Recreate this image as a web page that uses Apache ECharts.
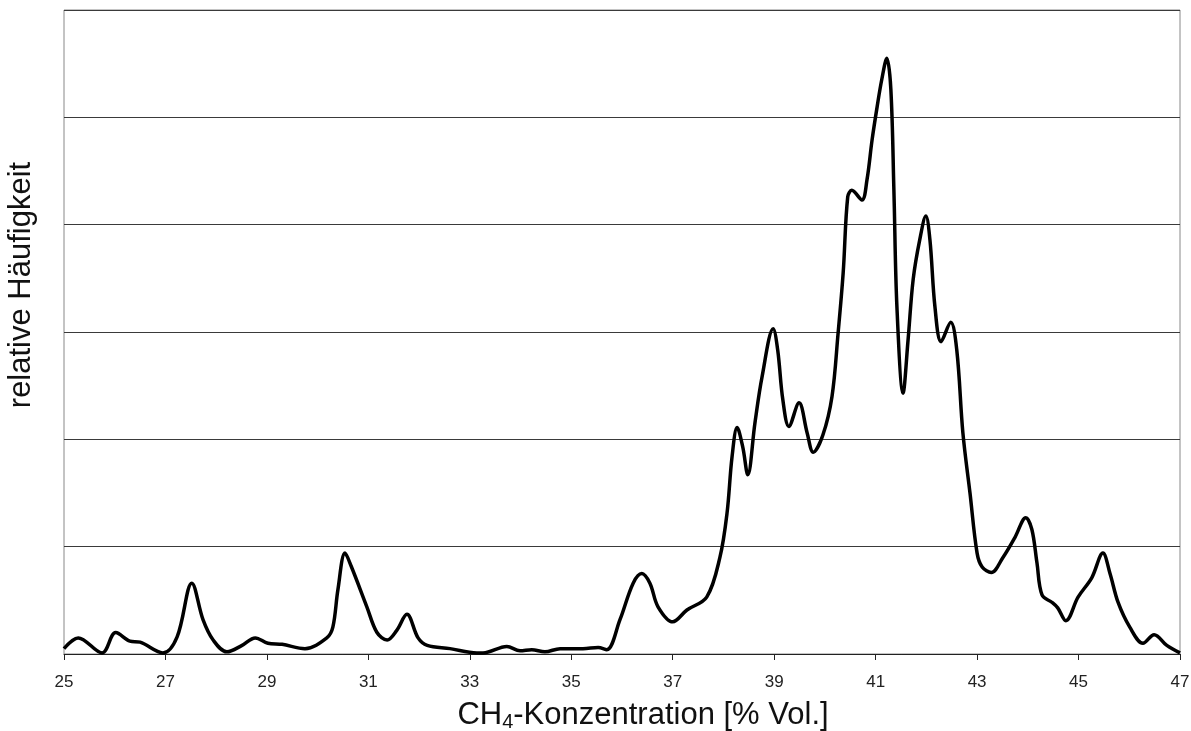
<!DOCTYPE html>
<html><head><meta charset="utf-8">
<script src="https://cdn.jsdelivr.net/npm/echarts@6/dist/echarts.min.js"></script>
<style>html,body{margin:0;padding:0;background:#fff}#c{width:1191px;height:731px}</style>
</head><body><div id="c"></div>
<script>
const concentration = [25.0,25.28,25.75,26.02,26.3,26.5,26.95,27.23,27.52,27.74,27.94,28.21,28.51,28.77,29.02,29.3,29.75,30.18,30.3,30.4,30.54,30.66,30.97,31.17,31.37,31.56,31.76,31.98,32.16,32.61,33.14,33.26,33.73,33.99,34.22,34.48,34.78,35.23,35.53,35.7,35.96,36.22,36.39,36.55,36.71,37.0,37.28,37.67,37.93,38.07,38.17,38.27,38.38,38.48,38.62,38.76,38.98,39.07,39.17,39.29,39.49,39.65,39.77,39.96,40.14,40.26,40.36,40.45,40.53,40.73,40.83,40.93,41.03,41.12,41.22,41.3,41.36,41.42,41.54,41.64,41.74,41.87,41.99,42.07,42.17,42.29,42.48,42.6,42.72,42.86,43.0,43.1,43.28,43.51,43.75,43.96,44.08,44.18,44.28,44.48,44.59,44.75,44.99,45.26,45.48,45.62,45.78,46.01,46.27,46.49,46.74,47.0];
const frequency = [0.05,0.15,0.01,0.2,0.12,0.11,0.01,0.16,0.66,0.32,0.13,0.02,0.08,0.15,0.10,0.09,0.05,0.15,0.25,0.6,0.94,0.82,0.44,0.2,0.13,0.22,0.37,0.15,0.08,0.05,0.01,0.01,0.07,0.03,0.04,0.02,0.05,0.05,0.06,0.04,0.32,0.66,0.75,0.66,0.44,0.30,0.41,0.53,0.90,1.31,1.84,2.11,1.93,1.67,2.15,2.58,3.03,2.83,2.37,2.12,2.34,2.06,1.88,2.04,2.4,2.99,3.55,4.26,4.32,4.23,4.42,4.79,5.1,5.35,5.55,5.26,4.32,3.23,2.43,2.93,3.49,3.86,4.08,3.86,3.23,2.91,3.09,2.83,2.06,1.5,0.94,0.81,0.76,0.9,1.09,1.27,1.16,0.85,0.55,0.48,0.43,0.31,0.53,0.71,0.94,0.75,0.48,0.25,0.1,0.18,0.08,0.01];
const xTitle = ['CH', '4', '-Konzentration [% Vol.]'];
const yTitle = 'relative Häufigkeit';

const chart = echarts.init(document.getElementById('c'), null, {renderer:'canvas'});
chart.setOption({
  animation:false,
  grid:{left:64, right:11, top:10, bottom:77, show:true, borderColor:'#888', borderWidth:1, containLabel:false, outerBoundsMode:'none'},
  xAxis:{type:'value', min:25, max:47, interval:2,
    axisLine:{show:true, lineStyle:{color:'#222', width:1}},
    axisTick:{show:true, inside:false, length:6, lineStyle:{color:'#222'}},
    axisLabel:{color:'#222', fontSize:17, fontFamily:'Liberation Sans, Arial, sans-serif', margin:20},
    splitLine:{show:false},
    name:'{a|'+xTitle[0]+'}{s|'+xTitle[1]+'}{a|'+xTitle[2]+'}', nameLocation:'middle', nameGap:44,
    nameTextStyle:{padding:[0,0,0,42], rich:{a:{fontSize:31, fontFamily:'Liberation Sans, Arial, sans-serif', color:'#111'}, s:{fontSize:20, fontFamily:'Liberation Sans, Arial, sans-serif', color:'#111', padding:[14,0,0,0]}}}
  },
  yAxis:{type:'value', min:0, max:6, interval:1,
    axisLine:{show:false}, axisTick:{show:false}, axisLabel:{show:false},
    splitLine:{show:true, lineStyle:{color:'#3a3a3a', width:1}}
  },
  graphic:[{type:'text', x:21, y:285, rotation:Math.PI/2,
    style:{text:yTitle, fontSize:31, fontFamily:'Liberation Sans, Arial, sans-serif', fill:'#111', align:'center', verticalAlign:'middle'}}],
  series:[{type:'line', data:concentration.map((c,i)=>[c,frequency[i]]), smooth:0.35, showSymbol:false,
    lineStyle:{color:'#000', width:3.5}}]
});
</script></body></html>
